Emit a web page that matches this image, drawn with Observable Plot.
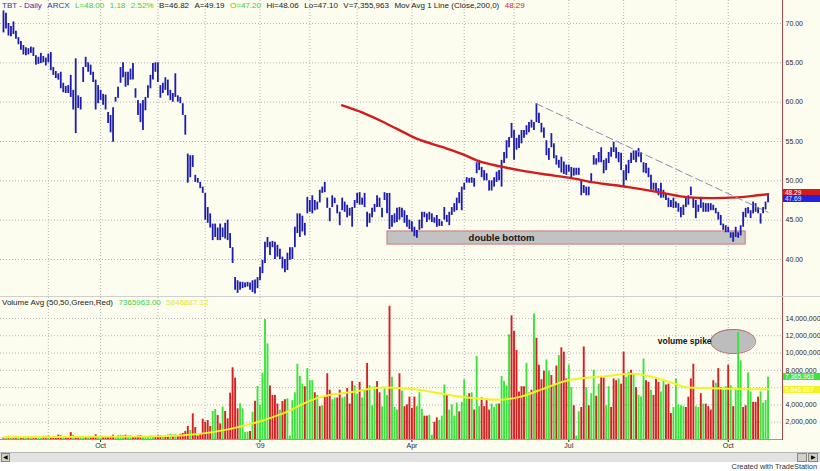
<!DOCTYPE html>
<html><head><meta charset="utf-8">
<script src="https://cdn.jsdelivr.net/npm/d3@7"></script>
<script src="https://cdn.jsdelivr.net/npm/@observablehq/plot@0.6"></script>
<style>
html,body{margin:0;padding:0;background:#fff;}
#wrap{position:relative;width:820px;height:471px;overflow:hidden;background:#fff;font-family:"Liberation Sans",Arial,sans-serif;}
#chart{position:absolute;left:0;top:0;width:820px;height:452px;background:#fcfcef;}
.pane{position:absolute;left:0;}
.hdr{position:absolute;left:2px;font-size:8px;white-space:nowrap;color:#222;line-height:9px;}
.hdr span{margin-right:5.5px;}
.bl{color:#3434b0}.gr{color:#3fcf3f}.rd{color:#d02828}.yl{color:#e6e62a}
.box{position:absolute;left:783px;width:37px;height:7px;font-size:6.5px;line-height:7px;color:#fff;padding-left:2px;box-sizing:border-box;overflow:hidden;}
#scroll{position:absolute;left:0;top:452px;width:820px;height:10px;background:#e2e2e2;border-top:1px solid #b8b8b8;box-sizing:border-box;}
.btn{position:absolute;top:0;height:9px;background:#d4d0c8;border:1px solid #888;box-sizing:border-box;font-size:6px;line-height:7px;text-align:center;color:#000;}
#credit{position:absolute;right:3px;top:462px;font-size:7.4px;color:#333;}
</style></head>
<body>
<div id="wrap">
  <div id="chart"></div>
  <div id="scroll">
    <div class="btn" style="left:1px;width:9px;">&#9664;</div>
    <div class="btn" style="left:797px;width:10px;"></div>
    <div class="btn" style="left:808px;width:10px;">&#9654;</div>
  </div>
  <div id="credit">Created with TradeStation</div>
</div>
<script>
// ---------- data ----------
const priceHigh = [
71.6,71.3,70.0,69.6,70.2,69.0,68.2,67.7,67.2,66.9,
66.8,67.0,66.9,65.9,65.7,66.2,65.8,65.6,66.1,66.3,
64.4,63.9,63.6,63.8,62.4,62.0,62.1,63.4,61.5,65.5,
60.8,60.6,64.4,65.7,65.0,64.7,63.8,62.8,62.1,61.5,
61.0,60.9,58.7,58.3,59.3,60.6,61.9,64.4,65.0,63.8,
63.8,64.2,64.9,61.7,60.2,59.8,60.2,60.6,62.1,63.4,
64.9,65.0,65.0,62.1,62.4,63.1,62.8,61.5,61.1,63.6,
60.8,60.6,59.8,58.3,53.4,53.2,53.2,50.7,50.3,49.8,
49.2,48.4,46.6,45.8,44.5,44.5,44.0,44.5,44.0,44.6,
45.0,43.3,41.5,37.7,37.3,37.1,37.1,37.0,37.1,37.0,
37.3,37.4,37.7,39.0,39.9,42.2,42.8,42.2,42.3,42.2,
41.8,41.3,40.3,40.0,40.8,41.5,41.5,44.1,45.8,45.8,
45.5,44.6,47.9,47.5,48.1,47.5,47.3,48.8,49.2,49.8,
47.8,46.5,48.1,47.8,46.9,46.0,47.8,47.3,46.9,46.5,
46.6,47.5,48.4,48.5,47.8,48.4,46.0,45.8,46.5,47.0,
48.1,47.8,46.5,48.5,48.4,48.4,45.6,45.8,46.5,46.6,
46.5,46.2,45.6,45.0,44.8,44.1,43.7,45.0,46.0,46.0,
45.8,46.0,45.8,45.3,45.6,45.1,44.8,46.6,45.6,46.0,
46.6,47.1,47.8,48.5,49.2,49.7,50.4,50.3,50.4,50.3,
52.3,52.6,51.7,51.3,50.9,50.0,50.0,50.4,51.1,51.3,
52.6,53.6,55.1,55.5,57.3,56.4,55.4,55.8,56.4,56.4,
57.0,57.4,57.7,57.4,59.8,58.6,57.3,56.7,55.1,54.1,
56.0,54.7,53.2,52.6,53.0,52.4,52.0,52.0,51.7,51.6,
51.6,51.6,50.0,49.4,49.2,49.2,50.9,53.2,52.8,53.6,
54.2,52.6,52.8,53.6,54.2,54.9,54.2,53.6,53.5,51.3,
52.0,52.6,53.5,53.8,53.8,54.1,53.6,52.3,52.2,51.6,
50.7,49.7,49.7,49.0,49.7,48.8,48.4,47.8,47.5,47.8,
47.3,47.1,46.6,46.9,47.8,48.1,49.2,47.8,47.5,46.9,
47.9,47.2,47.1,47.1,47.1,46.9,46.5,46.0,45.6,44.5,
44.3,44.1,43.4,43.4,44.1,43.4,44.3,46.0,46.5,46.6,
46.2,47.3,47.1,46.6,45.8,46.6,47.3,48.4];
const priceLow = [
68.8,69.3,68.4,68.3,68.6,68.0,67.3,66.6,66.0,65.9,
66.0,66.2,65.8,64.7,64.8,64.9,65.0,64.6,65.0,64.0,
63.4,63.0,62.8,61.7,61.2,61.1,61.1,60.6,59.0,56.0,
59.2,59.0,62.5,64.4,63.8,63.4,62.5,59.0,59.8,60.2,
59.6,59.0,57.3,56.1,54.9,60.0,60.5,62.4,63.1,61.9,
62.1,62.8,62.8,60.5,58.3,57.4,56.4,58.9,60.5,61.7,
62.8,63.8,62.5,60.5,61.1,61.5,60.8,60.2,60.0,60.6,
60.0,59.8,58.3,55.8,49.7,50.4,51.7,49.8,49.7,49.0,
48.4,45.0,44.6,44.0,42.4,42.8,42.4,42.4,42.8,42.6,
42.4,41.4,39.5,36.1,35.7,36.1,36.3,36.4,36.5,36.1,
35.8,35.6,36.3,37.3,38.2,39.5,41.5,40.5,41.5,40.0,
40.3,40.0,38.8,38.3,38.6,39.9,40.0,41.5,43.3,42.8,
43.5,43.0,45.8,46.0,45.8,46.2,46.3,47.2,48.4,48.5,
46.5,44.8,46.6,47.1,45.8,44.3,46.2,46.0,45.3,45.5,
44.1,46.5,47.1,46.9,46.9,46.6,44.1,44.6,45.3,46.0,
46.6,46.6,45.3,47.5,45.8,43.8,44.1,44.6,44.7,45.0,
45.3,44.6,44.1,43.8,43.5,42.9,42.7,43.7,43.9,45.3,
44.7,45.0,44.7,44.6,44.1,44.2,44.2,45.0,44.7,44.3,
45.6,46.0,46.2,47.1,46.2,48.8,49.7,49.7,49.7,49.2,
50.9,51.3,50.4,50.0,50.0,48.7,48.7,49.2,49.8,50.0,
49.2,52.2,52.8,54.2,55.4,52.6,53.9,54.1,54.7,55.4,
55.8,56.1,56.7,56.4,57.4,57.3,56.1,55.4,53.2,52.6,
54.2,52.8,52.0,51.6,51.0,50.8,50.7,51.1,50.4,50.6,
50.7,50.7,48.1,48.4,48.1,48.1,49.8,52.0,52.0,52.3,
52.3,50.9,51.3,52.2,53.0,53.6,52.8,52.3,51.3,49.2,
50.0,50.9,52.2,52.6,52.3,53.0,52.3,51.0,50.9,50.4,
48.8,48.8,48.5,48.1,47.8,47.8,47.5,46.6,46.6,46.5,
46.5,46.0,45.3,45.6,46.6,46.9,48.1,46.5,45.2,46.0,
46.5,46.0,46.0,46.0,46.2,46.2,45.8,45.0,44.3,43.7,
43.4,43.4,42.7,42.2,42.8,42.7,43.0,44.1,45.3,45.8,
45.2,45.8,46.0,45.8,44.5,45.8,46.3,47.2];
// volume in millions of shares
const volume = [
0.2,0.25,0.3,0.2,0.25,0.3,0.2,0.15,0.25,0.2,
0.3,0.25,0.2,0.3,0.25,0.2,0.3,0.35,0.4,0.3,
0.25,0.3,0.5,0.4,0.3,0.25,0.35,0.8,0.5,0.3,
0.2,0.35,0.3,0.3,0.25,0.3,0.35,0.55,0.3,0.2,
0.3,0.3,0.35,0.3,0.5,0.35,0.45,0.5,0.45,0.5,
0.4,0.45,0.3,0.35,0.4,0.45,0.3,0.35,0.3,0.4,
0.35,0.3,0.5,0.45,0.35,0.4,0.5,0.6,0.5,0.55,
0.45,0.6,0.7,0.92,1.5,1.04,2.97,1.39,0.4,0.66,
2.35,2.0,2.2,1.5,3.24,3.47,2.77,1.81,3.74,3.24,
2.39,5.36,8.29,7.09,3.55,4.12,3.55,0.8,0.85,0.92,
3.16,4.43,6.13,4.0,7.67,13.87,11.06,6.2,5.1,5.1,
4.1,3.4,4.4,4.6,4.7,0.4,4.5,5.4,8.7,7.3,
6.4,6.1,8.2,6.8,6.8,5.4,5.1,3.8,3.9,5.0,
7.6,5.7,4.6,4.8,4.8,5.7,4.8,4.9,5.9,4.1,
6.7,6.2,5.2,6.6,4.8,5.7,8.8,6.2,3.9,6.1,
6.7,5.4,3.8,5.9,5.1,15.4,7.2,3.7,3.4,7.6,
5.6,3.8,4.0,4.9,3.6,4.9,3.8,5.4,3.5,2.7,
2.7,2.8,0.5,2.0,2.5,2.2,2.7,6.3,5.2,3.4,
4.0,2.7,4.2,3.2,4.3,6.9,5.0,5.3,5.4,3.4,
9.6,3.8,4.8,3.8,4.5,3.4,4.1,3.7,4.1,4.1,
7.3,6.7,6.2,12.1,14.3,12.5,10.3,5.5,6.1,6.1,
8.8,5.4,5.7,14.5,11.7,8.6,6.9,7.9,9.2,7.9,
7.4,6.4,8.5,9.7,10.6,10.1,7.0,8.6,6.0,3.9,
0.4,3.2,3.7,10.7,6.0,3.9,5.3,8.0,5.0,6.4,
7.3,7.1,3.9,6.1,3.7,7.0,6.8,7.0,6.4,10.1,
7.2,7.8,8.0,7.5,6.0,5.1,4.9,9.3,6.8,6.6,
5.7,5.1,7.0,6.6,5.5,6.8,6.3,6.4,3.0,3.7,
7.0,4.0,3.9,3.8,3.7,4.9,7.0,8.7,3.8,3.7,
5.3,4.1,4.1,3.8,3.4,6.8,6.5,8.2,6.0,5.7,
6.1,8.6,6.2,3.8,5.9,12.4,9.1,3.7,3.9,7.7,
5.5,4.3,4.3,4.9,5.5,4.2,4.5,7.2];
// g = up day (green), r = down day (red)
const volumeDirection = (
"rgrgrrgrrg rgrrggrrgr rrrrgrrrgr rggrgrrrgg rrrrrggggr " +
"ggrrrrgggg grrrgrrgrg rrrrrgrrrr rrrrggrrgr rrrrrggggr " +
"grgggggrrr rgrrgggggg grgggrgrgr rrggrrggrr rggrggrggg " +
"rrgggrgggr grrrrrgggr rggrrgggrg gggrgggrgr ggrrrrgggr " +
"ggggrrrrrr ggrgrrrrgg rgrgrrrggr ggrrgrggrg rrggrrrgrr " +
"ggrgrgggrr grrrggrrrg ggggrrrrgg rgrrrrgrrg grgrgggrrg grrrgggg"
).replace(/ /g, "").split("");

const maIndex = [136, 144, 151, 158, 165, 172, 178, 185, 190, 200, 208, 218, 227, 237, 251, 264, 275, 284, 295, 304, 307];
const maValue = [59.6, 58.7, 57.7, 56.6, 55.5, 54.7, 54.1, 53.3, 52.6, 51.8, 51.3, 50.8, 50.4, 49.8, 49.2, 48.5, 47.9, 47.8, 47.9, 48.2, 48.3];

const volAvgIndex = [0, 23, 59, 71, 96, 103, 113, 125, 132, 140, 148, 152, 161, 165, 172, 180, 188, 199, 207, 218, 226, 241, 252, 261, 268, 275, 288, 301, 307];
const volAvgValue = [0.25, 0.3, 0.35, 0.45, 1.55, 2.1, 3.1, 4.7, 5.2, 5.5, 5.9, 6.0, 5.9, 5.8, 5.5, 5.1, 4.8, 4.6, 4.9, 6.0, 6.8, 7.3, 7.6, 7.2, 6.6, 6.0, 5.9, 5.8, 5.8];

const trendIndex = [214, 307];
const trendValue = [59.8, 46.0];

const zoneIndex = [154.2, 298];
const zonePrice = [41.9, 43.56];
const zoneLabel = ["double bottom"];
const zoneLabelIndex = [200];

const spikeCenter = [293, 11.33];   // [bar index, volume M]
const spikeRadius = [9, 1.39];
const spikeLabel = ["volume spike"];
const spikeLabelIndex = [262.7];

const monthStarts = [18, 39, 62, 81, 103, 123, 142, 164, 185, 205, 227, 249, 270, 291];
const dateTickIndex = [39, 103, 164, 227, 291];
const dateTickLabel = ["Oct", "'09", "Apr", "Jul", "Oct"];
const priceTicks = [40, 45, 50, 55, 60, 65, 70];
const volGrid = [2, 4, 6, 8, 10, 12, 14];
const volTickLabels = [2, 4, 8, 10, 12, 14];   // 6,000,000 sits under the average box

const headerItems = [
  ["TBT - Daily", "bl"], ["ARCX", "bl"], ["L=48.00", "gr"], ["1.18", "gr"], ["2.52%", "gr"],
  ["B=46.82", ""], ["A=49.19", ""], ["O=47.20", "gr"], ["Hi=48.06", ""], ["Lo=47.10", ""],
  ["V=7,355,963", ""], ["Mov Avg 1 Line (Close,200,0)", ""], ["48.29", "rd"]];
const volHeaderItems = [["Volume Avg (50,50,Green,Red)", ""], ["7365963.00", "gr"], ["5846887.12", "yl"]];
const maLast = 48.29, lastPrice = 47.69, volLast = 7.365963, volAvgLast = 5.846887;

// ---------- build ----------
const bars = priceHigh.map((h, i) => ({i, hi: h, lo: priceLow[i]}));
const vols = volume.map((v, i) => ({i, v, d: volumeDirection[i]}));
const ma = maIndex.map((i, k) => ({i, v: maValue[k]}));
const vavg = volAvgIndex.map((i, k) => ({i, v: volAvgValue[k]}));
const trend = trendIndex.map((i, k) => ({i, v: trendValue[k]}));
const zone = [{x1: zoneIndex[0], x2: zoneIndex[1], y1: zonePrice[0], y2: zonePrice[1],
  lx: zoneLabelIndex[0], ly: (zonePrice[0] + zonePrice[1]) / 2, t: zoneLabel[0]}];
const ell = d3.range(0, 41).map(k => {
  const a = Math.PI * k / 40;
  return {x: spikeCenter[0] - spikeRadius[0] * Math.cos(a),
          lo: spikeCenter[1] - spikeRadius[1] * Math.sin(a),
          hi: spikeCenter[1] + spikeRadius[1] * Math.sin(a)};
});
const ellOutline = ell.map(p => ({x: p.x, y: p.hi})).concat(ell.slice().reverse().map(p => ({x: p.x, y: p.lo})));

const xDomain = [-1.2, 312.8], xRange = [0, 782];
const gridStyle = {stroke: "#b4b4b4", strokeDasharray: "1,2", strokeWidth: 1};
const baseStyle = {background: "transparent", fontFamily: "Liberation Sans, Arial, sans-serif", fontSize: "7px", color: "#2a2a2a", overflow: "visible"};

const pricePlot = Plot.plot({
  width: 820, height: 297, marginTop: 0, marginBottom: 0, marginLeft: 0, marginRight: 38,
  style: baseStyle,
  x: {domain: xDomain, range: xRange, axis: null},
  y: {domain: [35.17, 72.92], range: [297, 0], axis: "right", ticks: priceTicks,
      tickFormat: d => d.toFixed(2), tickSize: 0, tickPadding: 3, label: null},
  marks: [
    Plot.ruleY(priceTicks, gridStyle),
    Plot.ruleX(monthStarts, gridStyle),
    Plot.rect(zone, {x1: "x1", x2: "x2", y1: "y1", y2: "y2", fill: "#c2c2c2", stroke: "#d48a8a", strokeWidth: 1.3}),
    Plot.ruleX(bars, {x: "i", y1: "lo", y2: "hi", stroke: "#1c1cb0", strokeWidth: 1.8}),
    Plot.line(ma, {x: "i", y: "v", stroke: "#d21c1c", strokeWidth: 2.4, curve: "monotone-x"}),
    Plot.line(trend, {x: "i", y: "v", stroke: "#8a8ab2", strokeWidth: 1, strokeDasharray: "7,4"}),
    Plot.text(zone, {x: "lx", y: "ly", text: "t", fontWeight: "bold", fontSize: 9.5, fill: "#151515"}),
    Plot.ruleX([xDomain[1]], {stroke: "#a54a4a", strokeWidth: 1})
  ]
});

const volPlot = Plot.plot({
  width: 820, height: 155, marginTop: 0, marginBottom: 12, marginLeft: 0, marginRight: 38,
  style: baseStyle,
  x: {domain: xDomain, range: xRange, axis: "bottom", ticks: dateTickIndex,
      tickFormat: d => dateTickLabel[dateTickIndex.indexOf(d)], tickSize: 2, tickPadding: 1, label: null},
  y: {domain: [0, 16.42], range: [142, 0], axis: "right", ticks: volTickLabels,
      tickFormat: d => d3.format(",")(Math.round(d * 1e6)), tickSize: 0, tickPadding: 3, label: null},
  marks: [
    Plot.ruleY(volGrid, gridStyle),
    Plot.ruleX(monthStarts, gridStyle),
    Plot.areaY(ell, {x: "x", y1: "lo", y2: "hi", fill: "#bdbdbd"}),
    Plot.line(ellOutline, {x: "x", y: "y", stroke: "#b86464", strokeWidth: 1}),
    Plot.ruleX(vols.filter(d => d.d === "g"), {x: "i", y1: 0, y2: "v", stroke: "#3ee23e", strokeWidth: 1.9}),
    Plot.ruleX(vols.filter(d => d.d === "r"), {x: "i", y1: 0, y2: "v", stroke: "#d42222", strokeWidth: 1.9}),
    Plot.line(vavg, {x: "i", y: "v", stroke: "#f2f226", strokeWidth: 2, curve: "monotone-x"}),
    Plot.text(spikeLabel, {x: spikeLabelIndex, y: [spikeCenter[1]], text: d => d, textAnchor: "start", fontWeight: "bold", fontSize: 8.5, fill: "#151515"}),
    Plot.ruleY([0], {stroke: "#9a9a9a"}),
    Plot.ruleX([xDomain[1]], {stroke: "#a54a4a", strokeWidth: 1})
  ]
});

const chart = document.getElementById("chart");
const p1 = document.createElement("div"); p1.className = "pane"; p1.style.top = "0px"; p1.appendChild(pricePlot); chart.appendChild(p1);
const p2 = document.createElement("div"); p2.className = "pane"; p2.style.top = "297px"; p2.style.borderTop = "1px solid #cfcfcf"; p2.style.marginTop = "-1px"; p2.appendChild(volPlot); chart.appendChild(p2);

function header(items, top) {
  const h = document.createElement("div"); h.className = "hdr"; h.style.top = top + "px";
  items.forEach(([t, c]) => { const s = document.createElement("span"); s.textContent = t; if (c) s.className = c; h.appendChild(s); });
  chart.appendChild(h);
}
header(headerItems, 1);
header(volHeaderItems, 298);

function box(text, yPix, bg, color) {
  const b = document.createElement("div"); b.className = "box"; b.textContent = text;
  b.style.top = (yPix - 3.5) + "px"; b.style.background = bg; b.style.color = color || "#fff";
  chart.appendChild(b);
}
const ys = pricePlot.scale("y"), vs = volPlot.scale("y");
box(maLast.toFixed(2), ys.apply(maLast) - 1, "#d21c1c");
box(lastPrice.toFixed(2), ys.apply(lastPrice) + 0.5, "#2222e0", "#e8e8ff");
box(d3.format(",")(Math.round(volLast * 1e6)), 297 + vs.apply(volLast) + 1.5, "#3ee23e");
box(d3.format(",")(Math.round(volAvgLast * 1e6)), 297 + vs.apply(volAvgLast) + 1, "#f2f226");
</script>
</body></html>
